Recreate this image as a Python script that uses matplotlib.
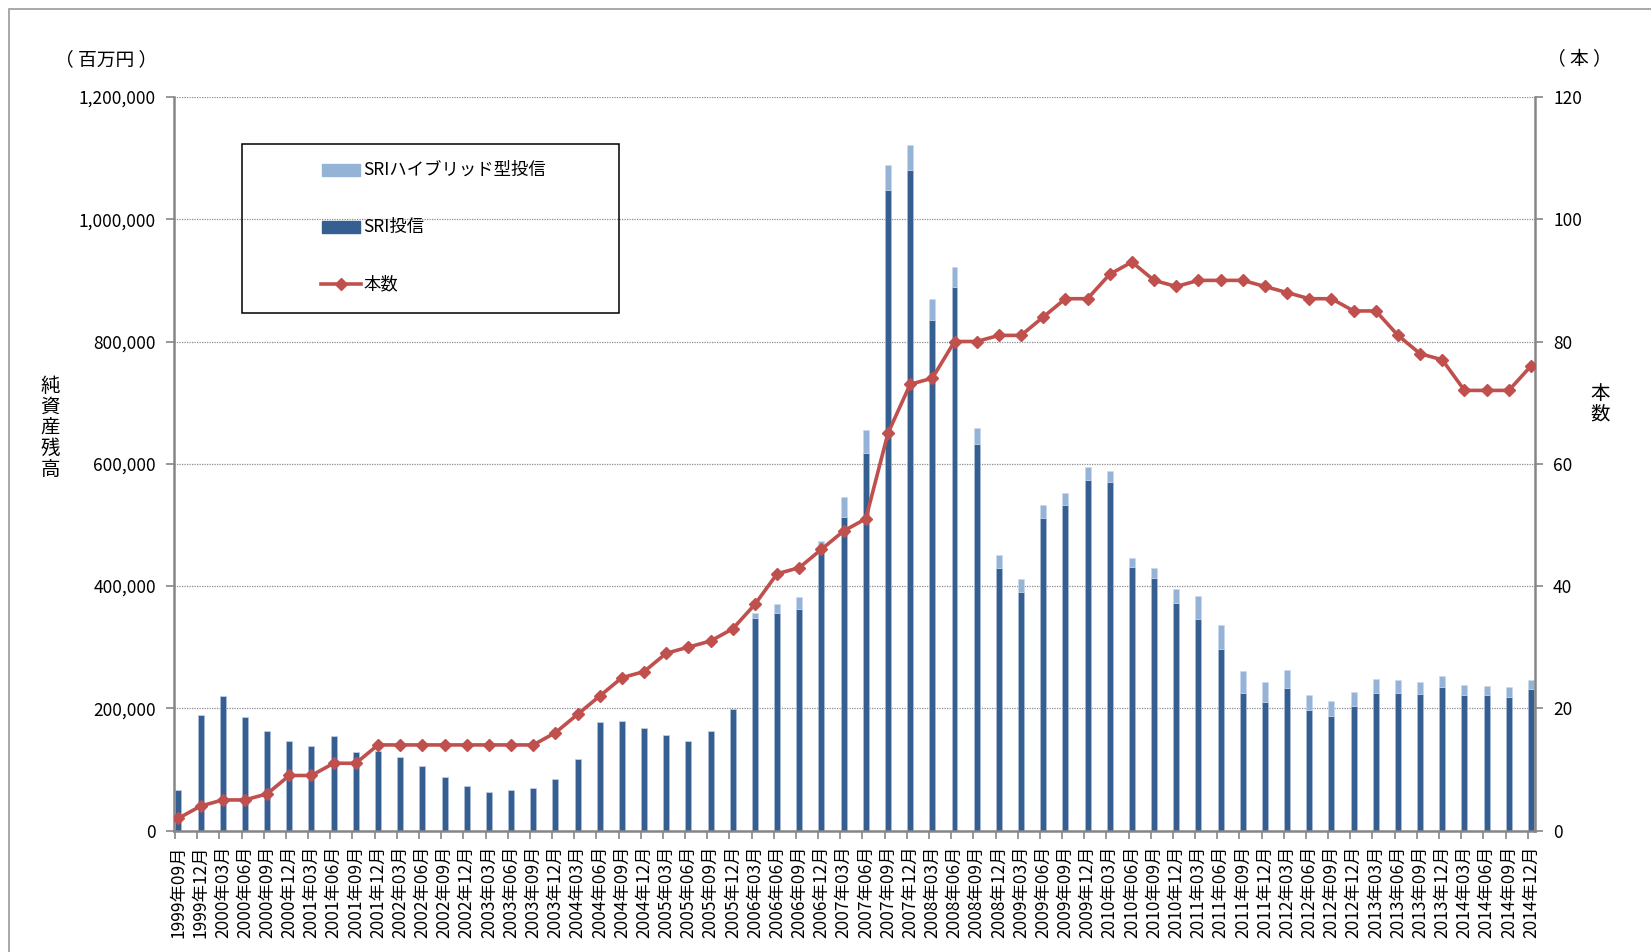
import numpy as np
import matplotlib
matplotlib.use('agg')
import matplotlib.pyplot as plt
from matplotlib.patches import Rectangle
from matplotlib.lines import Line2D
from matplotlib.ticker import FuncFormatter

plt.rcParams['font.family'] = ['Noto Sans CJK JP', 'DejaVu Sans']

# quarterly periods 1999/09 .. 2014/12
periods = ['1999年09月', '1999年12月']
for yr in range(2000, 2015):
    for m in ['03', '06', '09', '12']:
        periods.append(f'{yr}年{m}月')

# SRI投信 (百万円)
sri = [66000, 189000, 220000, 186000, 163000, 147000, 138000, 155000, 129000, 130000,
       121000, 106000, 87000, 73000, 63000, 67000, 69000, 85000, 117000, 178000,
       179000, 168000, 156000, 147000, 162000, 199000, 348000, 356000, 363000, 454000,
       513000, 617000, 1048000, 1080000, 835000, 889000, 633000, 429000, 391000, 512000,
       533000, 574000, 570000, 431000, 413000, 373000, 346000, 297000, 225000, 211000,
       233000, 197000, 188000, 204000, 225000, 225000, 224000, 235000, 222000, 221000,
       219000, 232000]

# SRIハイブリッド型投信 (百万円)
hybrid = [0] * 26 + [8000, 14000, 19000, 20000, 32000, 39000, 40000, 41000, 34000, 33000,
                     26000, 21000, 20000, 21000, 19000, 20000, 18000, 15000, 17000, 22000,
                     37000, 40000, 36000, 32000, 30000, 24000, 24000, 23000, 23000, 21000,
                     19000, 18000, 16000, 16000, 15000, 14000]

# 本数
funds = [2, 4, 5, 5, 6, 9, 9, 11, 11, 14, 14, 14, 14, 14, 14, 14, 14, 16, 19, 22,
         25, 26, 29, 30, 31, 33, 37, 42, 43, 46, 49, 51, 65, 73, 74, 80, 80, 81, 81, 84,
         87, 87, 91, 93, 90, 89, 90, 90, 90, 89, 88, 87, 87, 85, 85, 81, 78, 77, 72, 72,
         72, 76]

dark_blue = '#365f91'
light_blue = '#95b3d7'
red = '#c0504d'
axis_gray = '#868686'

W, H = 1651, 952
fig = plt.figure(figsize=(W / 100, H / 100), dpi=100)
ax = fig.add_axes([174 / W, 1 - 830.5 / H, (1535 - 174) / W, (830.5 - 97) / H])

x = np.arange(len(periods))
sri = np.array(sri)
hybrid = np.array(hybrid)

ax.bar(x, sri, width=0.27, color=dark_blue, edgecolor='#aec3df', linewidth=0.4, zorder=2)
ax.bar(x, hybrid, width=0.27, bottom=sri, color=light_blue, edgecolor='#c9d8ec',
       linewidth=0.4, zorder=2)

ax.set_xlim(-0.2, 61.18)
ax.set_ylim(0, 1200000)
ax.set_yticks(np.arange(0, 1200001, 200000))
ax.yaxis.set_major_formatter(FuncFormatter(lambda v, p: f'{int(v):,}'))
ax.yaxis.grid(True, linestyle=(0, (1, 1)), color='#8c8c8c', linewidth=0.9, zorder=0)
ax.set_axisbelow(True)

# tick marks sit just left of each bar, labels centred on bars
ax.set_xticks(x - 0.15)
ax.set_xticklabels([])
ax.set_xticks(x, periods, minor=True)
ax.tick_params(axis='x', which='major', length=6, width=1.2, color=axis_gray, direction='out')
ax.tick_params(axis='x', which='minor', length=0, pad=11, labelsize=12.5, labelrotation=90)
ax.tick_params(axis='y', length=6, width=1.2, color=axis_gray, pad=7, labelsize=12.5)

for s in ['left', 'right', 'bottom']:
    ax.spines[s].set_color(axis_gray)
    ax.spines[s].set_linewidth(1.8)
ax.spines['top'].set_visible(False)

ax2 = ax.twinx()
ax2.plot(x, funds, color=red, linewidth=2.6, marker='D', markersize=6.5,
         markeredgecolor=red, zorder=3)
ax2.set_ylim(0, 120)
ax2.set_yticks(np.arange(0, 121, 20))
ax2.tick_params(axis='y', length=6, width=1.2, color=axis_gray, pad=7, labelsize=12.5)
for s in ['left', 'right', 'bottom', 'top']:
    ax2.spines[s].set_visible(False)

# axis titles
fig.text(50 / W, 1 - 428 / H, '\n'.join('純資産残高'), fontsize=14, ha='center', va='center',
         linespacing=0.98)
fig.text(1600 / W, 1 - 404 / H, '\n'.join('本数'), fontsize=14, ha='center', va='center',
         linespacing=0.98)
fig.text(106 / W, 1 - 60 / H, '（ 百万円 ）', fontsize=13.5, ha='center', va='center')
fig.text(1579 / W, 1 - 60 / H, '（ 本 ）', fontsize=13.5, ha='center', va='center')

# legend box
fig.add_artist(Rectangle((242 / W, 1 - 313 / H), (619 - 242) / W, (313 - 144) / H,
                         transform=fig.transFigure, fill=False, edgecolor='black', linewidth=1.1))
leg_items = [('SRIハイブリッド型投信', light_blue, 'patch', 170),
             ('SRI投信', dark_blue, 'patch', 227),
             ('本数', red, 'line', 284)]
for label, col, kind, yy in leg_items:
    if kind == 'patch':
        fig.add_artist(Rectangle((322 / W, 1 - (yy + 6) / H), 38 / W, 12 / H,
                                 transform=fig.transFigure, color=col))
    else:
        fig.add_artist(Line2D([321 / W, 361 / W], [1 - yy / H, 1 - yy / H],
                              transform=fig.transFigure, color=col, linewidth=2.6))
        fig.add_artist(Line2D([341 / W], [1 - yy / H], transform=fig.transFigure,
                              color=col, marker='D', markersize=6.5))
    fig.text(363 / W, 1 - yy / H, label, fontsize=12.5, ha='left', va='center')

# outer frame
fig.add_artist(Rectangle((9 / W, -0.1), 1.2, 1 - 9 / H + 0.1, transform=fig.transFigure,
                         fill=False, edgecolor='#9a9a9a', linewidth=1.2))

fig.savefig('out.png', dpi=100)
